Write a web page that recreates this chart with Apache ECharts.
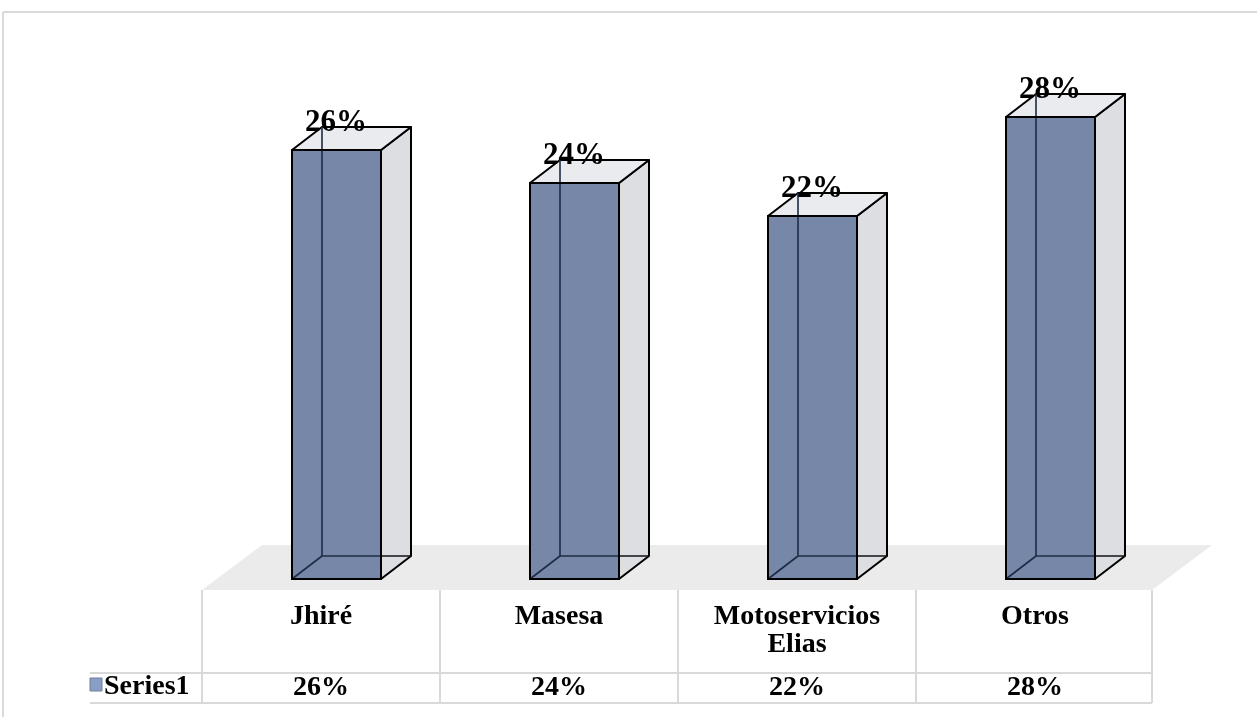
<!DOCTYPE html>
<html>
<head>
<meta charset="utf-8">
<script src="https://cdn.jsdelivr.net/npm/echarts@6/dist/echarts.min.js"></script>
<style>
  html, body { margin: 0; padding: 0; background: #ffffff; }
  #chart { width: 1257px; height: 717px; }
</style>
</head>
<body>
<div id="chart"></div>
<script>
const categories = ['Jhiré', 'Masesa', 'Motoservicios\nElias', 'Otros'];
const values = [26, 24, 22, 28];
const seriesName = 'Series1';

const FONT = '"Liberation Serif", "Times New Roman", serif';
const GRID_LINE = '#d9d9d9';

const chart = echarts.init(document.getElementById('chart'), null, { renderer: 'canvas' });

function renderBox(params, api) {
  const i = api.value(0), v = api.value(1);
  const top = api.coord([i, v]);
  const bot = api.coord([i, 0]);
  const cx = top[0];
  const fl = cx - 29, fr = cx + 60, ty = top[1], by = bot[1];
  const dx = 30, dy = -23;
  const edge = { stroke: '#000000', lineWidth: 2, lineJoin: 'round' };
  const inner = { stroke: '#1f2b44', lineWidth: 1.6 };
  return {
    type: 'group',
    children: [
      { type: 'polygon', shape: { points: [[fr, ty], [fr + dx, ty + dy], [fr + dx, by + dy], [fr, by]] },
        style: Object.assign({ fill: '#dddee1' }, edge) },
      { type: 'polygon', shape: { points: [[fl, ty], [fr, ty], [fr + dx, ty + dy], [fl + dx, ty + dy]] },
        style: Object.assign({ fill: '#eaebee' }, edge) },
      { type: 'line', shape: { x1: fl + dx, y1: by + dy, x2: fr + dx, y2: by + dy }, style: { stroke: '#111', lineWidth: 1.6 } },
      { type: 'rect', shape: { x: fl, y: ty, width: fr - fl, height: by - ty },
        style: { fill: '#7787a7', stroke: '#000000', lineWidth: 2 } },
      { type: 'line', shape: { x1: fl, y1: by, x2: fl + dx, y2: by + dy }, style: inner },
      { type: 'line', shape: { x1: fl + dx, y1: by + dy, x2: fr, y2: by + dy }, style: inner },
      { type: 'text', style: { text: v + '%', x: cx + 15, y: ty - 27, align: 'center', verticalAlign: 'middle',
        font: 'bold 31px ' + FONT, fill: '#000000' } },
      { type: 'line', shape: { x1: fl + dx, y1: ty + dy, x2: fl + dx, y2: by + dy }, style: inner },
      { type: 'rect', shape: { x: fl, y: ty, width: fr - fl, height: by - ty },
        style: { fill: 'none', stroke: '#000000', lineWidth: 2 } }
    ]
  };
}

const tableLines = [];
[[202, 673, 1152, 673], [90, 673, 202, 673], [90, 703, 1152, 703]].forEach(p => {
  tableLines.push({ type: 'line', shape: { x1: p[0], y1: p[1], x2: p[2], y2: p[3] }, style: { stroke: GRID_LINE, lineWidth: 2 }, z: 1 });
});
[202, 440, 678, 916, 1152].forEach(x => {
  tableLines.push({ type: 'line', shape: { x1: x, y1: 590, x2: x, y2: 703 }, style: { stroke: GRID_LINE, lineWidth: 2 }, z: 1 });
});

const option = {
  backgroundColor: '#ffffff',
  animation: false,
  grid: { left: 202, right: 103, top: 84, bottom: 138, containLabel: false },
  xAxis: [
    {
      type: 'category', data: categories, position: 'bottom',
      axisLine: { show: false }, axisTick: { show: false }, splitLine: { show: false },
      axisLabel: { interval: 0, margin: 24, verticalAlign: 'top', lineHeight: 28,
        fontFamily: FONT, fontWeight: 'bold', fontSize: 28, color: '#000000' }
    },
    {
      type: 'category', data: values.map(v => v + '%'), position: 'bottom', offset: 109,
      axisLine: { show: false }, axisTick: { show: false }, splitLine: { show: false },
      axisLabel: { interval: 0, margin: 0, verticalAlign: 'middle',
        fontFamily: FONT, fontWeight: 'bold', fontSize: 28, color: '#000000' }
    }
  ],
  yAxis: { type: 'value', min: 0, max: 30, show: false, splitLine: { show: false } },
  graphic: [
    { type: 'line', shape: { x1: 3, y1: 12, x2: 1257, y2: 12 }, style: { stroke: GRID_LINE, lineWidth: 2 }, z: 0 },
    { type: 'line', shape: { x1: 3, y1: 12, x2: 3, y2: 717 }, style: { stroke: GRID_LINE, lineWidth: 2 }, z: 0 },
    { type: 'polygon', shape: { points: [[262, 545], [1212, 545], [1152, 590], [202, 590]] },
      style: { fill: '#ebebeb' }, z: -1 },
    ...tableLines,
    { type: 'rect', shape: { x: 90, y: 678, width: 12, height: 13 },
      style: { fill: '#8a9dc4', stroke: '#6f7f9e', lineWidth: 1 }, z: 2 },
    { type: 'text', style: { text: seriesName, x: 104, y: 687, align: 'left', verticalAlign: 'middle',
      font: 'bold 28px ' + FONT, fill: '#000000' }, z: 2 }
  ],
  series: [{
    type: 'custom',
    name: seriesName,
    renderItem: renderBox,
    encode: { x: 0, y: 1 },
    data: values.map((v, i) => [i, v]),
    z: 5
  }]
};

chart.setOption(option);
</script>
</body>
</html>
